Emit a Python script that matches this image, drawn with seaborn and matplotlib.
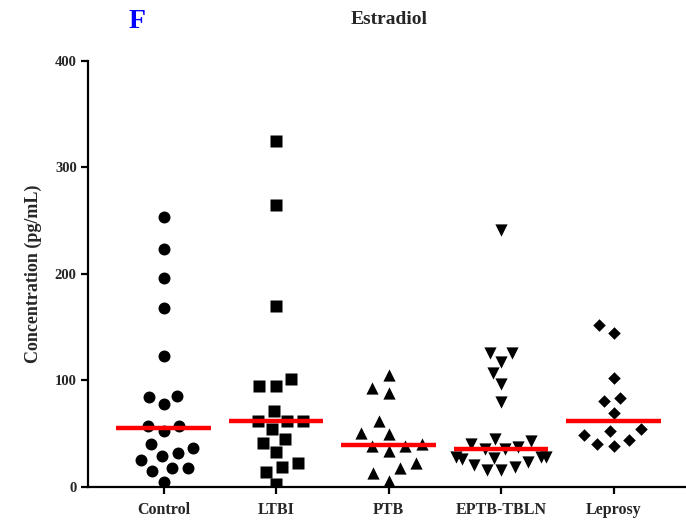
import numpy as np
import pandas as pd
import matplotlib
matplotlib.use("Agg")
import matplotlib.pyplot as plt
import seaborn as sns

groups = ["Control", "LTBI", "PTB", "EPTB-TBLN", "Leprosy"]
markers = ["o", "s", "^", "v", "D"]

control = [253.8, 223, 196, 167.8, 123.3, 85.4, 84.2, 77.9, 57.6, 57.3, 52.6,
           40, 36.3, 29.1, 31.6, 25.4, 18.1, 17.5, 15.3, 5]
ltbi = [324.9, 264.8, 170, 101.4, 94.8, 94.8, 71.7, 62.3, 62.3, 62.3, 54.5,
        45.1, 41.6, 32.6, 22.8, 18.5, 14.4, 2.5]
ptb = [105.2, 88.6, 93.3, 62, 50.4, 49.5, 40, 38.5, 38.8, 33.8, 22.8, 17.5,
       12.8, 5.6]
eptb = [241.3, 126.1, 125.5, 117.7, 106.7, 96.7, 80.1, 44.8, 40.1, 43.2, 37.9,
        36.0, 35.4, 28.5, 28.5, 28.5, 26.9, 26, 23.8, 20.7, 19.1, 16, 16]
leprosy = [152.1, 144.9, 102.6, 83.9, 81, 69.2, 52.9, 54.2, 48.8, 44.1, 38.5,
           40.4]
yticks = [0, 100, 200, 300, 400]

values = [control, ltbi, ptb, eptb, leprosy]
df = pd.DataFrame({
    "group": np.repeat(groups, [len(v) for v in values]),
    "value": np.concatenate(values),
})

sns.set_style("white")
plt.rcParams["font.family"] = ["Liberation Serif", "DejaVu Serif"]
plt.rcParams["font.weight"] = "bold"

fig = plt.figure(figsize=(6.86, 5.2), dpi=100)
ax = fig.add_axes([0.128, 0.0635, 0.87, 0.8195])

sizes = {"o": 8.6, "s": 8.0, "^": 8.8, "v": 8.8, "D": 6.4}
gaps = {"o": 2.5, "s": 3.5, "^": 3.0, "v": 0.8, "D": 5.0}
for g, m in zip(groups, markers):
    sns.swarmplot(data=df[df.group == g], x="group", y="value", order=groups,
                  marker=m, color="black", size=sizes[m], linewidth=gaps[m],
                  edgecolor=(1, 1, 1, 0), ax=ax, warn_thresh=1)

for i, v in enumerate(values):
    med = np.median(v)
    ax.hlines(med, i - 0.42, i + 0.42, color="#ff0000", linewidth=3.2, zorder=10)

ax.set_xlim(-0.674, 4.63)
ax.set_ylim(0, 400)
ax.set_yticks(yticks)
ax.set_yticklabels([str(t) for t in yticks], fontsize=10.5, fontweight="bold")
ax.set_xticks(range(len(groups)))
ax.set_xticklabels(groups, fontsize=11.5, fontweight="bold")
ax.set_xlabel("")
ax.set_ylabel("Concentration (pg/mL)", fontsize=13, fontweight="bold", labelpad=9)

for side in ["top", "right"]:
    ax.spines[side].set_visible(False)
for side in ["left", "bottom"]:
    ax.spines[side].set_linewidth(1.6)
    ax.spines[side].set_color("black")
ax.tick_params(axis="both", direction="out", length=5, width=1.6, color="black",
               left=True, bottom=True)
ax.tick_params(axis="x", pad=6)
ax.tick_params(axis="y", pad=3)

fig.text(389 / 686, 1 - 20 / 520, "Estradiol", ha="center", va="center",
         fontsize=14, fontweight="bold")
fig.text(137 / 686, 1 - 22 / 520, "F", ha="center", va="center",
         fontsize=20, fontweight="bold", color="#0000ff")

fig.savefig("out.png", dpi=100)
